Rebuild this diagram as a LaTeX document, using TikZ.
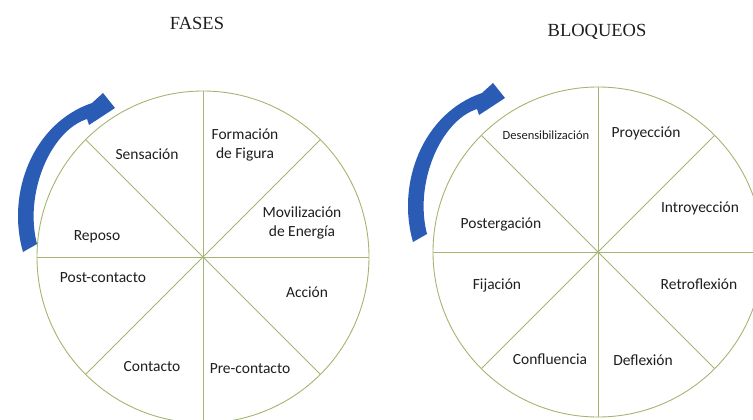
\documentclass[tikz,border=0pt]{standalone}
\usepackage{fontspec}
\setmainfont{Liberation Serif}
\setsansfont{Carlito}
\usepackage{tikz}

\definecolor{spokegreen}{RGB}{163,181,112}
\definecolor{arrowblue}{RGB}{42,92,182}
\definecolor{labelgray}{RGB}{30,30,30}

\tikzset{
  wheel/.style={draw=spokegreen, line width=0.9pt},
  phase/.style={font=\sffamily\fontsize{15.5}{19}\selectfont, text=labelgray, align=center, inner sep=0pt},
  smallphase/.style={phase, font=\sffamily\fontsize{12.5}{15}\selectfont},
  heading/.style={font=\fontsize{18.5}{22}\selectfont, text=labelgray, inner sep=0pt},
  turn/.pic={
    \fill[arrowblue] (-180,-5) .. controls (-197,-64) and (-170,-134) .. (-111,-154)
      -- (-100,-164) -- (-88,-149) -- (-114,-132) -- (-116,-138)
      .. controls (-153,-126) and (-179,-63) .. (-166,-13) -- cycle;
  }
}

\begin{document}
\begin{tikzpicture}[x=1pt, y=-1pt]
        \useasboundingbox (0,0) rectangle (753,420);
        \clip (0,0) rectangle (753,420);

        % Draw the two wheels
        \coordinate (fc) at (203,257);
        \coordinate (bc) at (598,252);
        \draw[wheel] (fc) circle (166);
        \draw[wheel] (bc) circle (165);
        \foreach \a in {0,45,...,315} {
            \draw[wheel] (fc) -- ++(\a:166);
            \draw[wheel] (bc) -- ++(\a:165);
        }

        % Draw the turning arrows
        \pic at (fc) {turn};
        \pic at ([shift={(-5,-5)}]bc) {turn};

        % Titles
        \node[heading] (fases) at (197,23) {FASES};
        \node[heading] (bloqueos) at (597,32) {BLOQUEOS};

        % Phases
        \node[phase] (sensacion) at (147,154) {Sensación};
        \node[phase] (formacion) at (245,145) {Formación\\de Figura};
        \node[phase] (movilizacion) at (302,223) {Movilización\\de Energía};
        \node[phase] (reposo) at (97,237) {Reposo};
        \node[phase] (postcontacto) at (103,278) {Post-contacto};
        \node[phase] (accion) at (307,292) {Acción};
        \node[phase] (contacto) at (152,367) {Contacto};
        \node[phase] (precontacto) at (250,369) {Pre-contacto};

        % Blocks
        \node[smallphase] (desensibilizacion) at (546,135) {Desensibilización};
        \node[phase] (proyeccion) at (646,133) {Proyección};
        \node[phase] (introyeccion) at (700,208) {Introyección};
        \node[phase] (postergacion) at (501,224) {Postergación};
        \node[phase] (fijacion) at (497,285) {Fijación};
        \node[phase] (retroflexion) at (699,284) {Retroflexión};
        \node[phase] (confluencia) at (550,359) {Confluencia};
        \node[phase] (deflexion) at (643,360) {Deflexión};
    \end{tikzpicture}
\end{document}
